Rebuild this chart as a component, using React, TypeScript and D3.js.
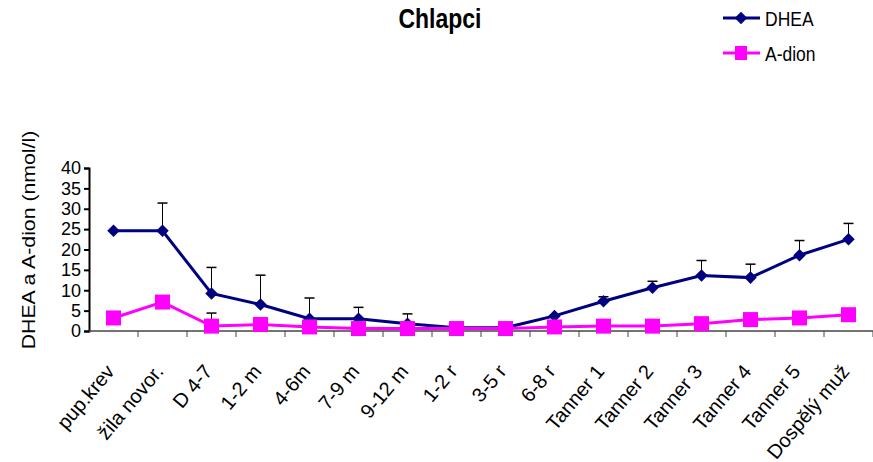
import React, { useEffect, useRef } from "react";
import * as d3 from "d3";

const categories = [
  "pup.krev", "žila novor.", "D 4-7", "1-2 m", "4-6m", "7-9 m", "9-12 m", "1-2 r",
  "3-5 r", "6-8 r", "Tanner 1", "Tanner 2", "Tanner 3", "Tanner 4", "Tanner 5", "Dospělý muž",
];
const dhea = [24.6, 24.6, 9.2, 6.5, 3.0, 3.0, 1.8, 0.8, 0.8, 3.7, 7.3, 10.6, 13.6, 13.1, 18.6, 22.5];
const dheaErr = [0, 6.8, 6.4, 7.2, 5.1, 2.8, 2.4, 0.3, 0.3, 0, 1.1, 1.6, 3.7, 3.3, 3.6, 3.9];
const adion = [3.2, 7.1, 1.2, 1.6, 1.0, 0.6, 0.6, 0.6, 0.6, 1.0, 1.2, 1.2, 1.8, 2.8, 3.2, 4.0];
const adionErr = [0, 0, 3.2, 0, 0, 0, 0, 0, 0, 0, 0, 0, 0, 0, 0, 0];
const yTicks = [0, 5, 10, 15, 20, 25, 30, 35, 40];

const width = 873;
const height = 462;
const margin = { top: 168, right: 0, bottom: 131, left: 89 };
const font = "Arial, 'Liberation Sans', sans-serif";

const App = () => {
  const ref = useRef<SVGSVGElement>(null);

  useEffect(() => {
    const svg = d3.select(ref.current);
    svg.selectAll("*").remove();

    const x = d3.scaleBand().domain(categories).range([margin.left, width - margin.right]);
    const y = d3.scaleLinear().domain([0, 40]).range([height - margin.bottom, margin.top]);
    const cx = (i: number) => (x(categories[i]) as number) + x.bandwidth() / 2;

    // title (source image is a bit stretched vertically)
    svg.append("text").attr("transform", "translate(440,28) scale(1,1.2)").attr("text-anchor", "middle")
      .attr("font-family", font).attr("font-weight", "bold").attr("font-size", 23).text("Chlapci");

    // y axis
    const yAxis = svg.append("g").attr("transform", `translate(${margin.left},0)`)
      .call(d3.axisLeft(y).tickValues(yTicks).tickSize(5).tickPadding(3));
    yAxis.selectAll("text").attr("font-family", font).attr("font-size", 18).attr("fill", "#000");
    yAxis.selectAll("line, path").attr("stroke", "#000").attr("stroke-width", 2);

    // x axis: ticks at band edges
    const xg = svg.append("g");
    xg.append("line").attr("x1", margin.left).attr("x2", width).attr("y1", y(0)).attr("y2", y(0))
      .attr("stroke", "#444").attr("stroke-width", 1.5);
    categories.forEach((c, i) => {
      const x1 = (x(c) as number) + x.bandwidth();
      xg.append("line").attr("x1", x1).attr("x2", x1).attr("y1", y(0)).attr("y2", y(0) + 6)
        .attr("stroke", "#444").attr("stroke-width", 1);
      xg.append("text")
        .attr("transform", `translate(${cx(i) + 2},${y(0) + 41}) rotate(-50)`)
        .attr("text-anchor", "end").attr("font-family", font).attr("font-size", 20).text(c);
    });

    // y label
    svg.append("text").attr("transform", "translate(35,240) rotate(-90) scale(1.12,1)")
      .attr("text-anchor", "middle").attr("font-family", font).attr("font-size", 19)
      .text("DHEA a A-dion (nmol/l)");

    const line = d3.line<number>().x((_, i) => cx(i)).y((d) => y(d));

    const drawErr = (vals: number[], errs: number[]) => {
      vals.forEach((v, i) => {
        if (!errs[i]) return;
        const top = y(v + errs[i]);
        svg.append("line").attr("x1", cx(i)).attr("x2", cx(i)).attr("y1", y(v)).attr("y2", top)
          .attr("stroke", "#000").attr("stroke-width", 1);
        svg.append("line").attr("x1", cx(i) - 5).attr("x2", cx(i) + 5).attr("y1", top).attr("y2", top)
          .attr("stroke", "#000").attr("stroke-width", 1.5);
      });
    };
    drawErr(dhea, dheaErr);
    drawErr(adion, adionErr);

    svg.append("path").datum(dhea).attr("d", line).attr("fill", "none")
      .attr("stroke", "#000080").attr("stroke-width", 3);
    svg.append("path").datum(adion).attr("d", line).attr("fill", "none")
      .attr("stroke", "#ff00ff").attr("stroke-width", 3);

    const diamond = d3.symbol().type(d3.symbolDiamond2).size(100);
    svg.selectAll(".dm").data(dhea).enter().append("path")
      .attr("d", diamond).attr("transform", (d, i) => `translate(${cx(i)},${y(d)})`).attr("fill", "#000080");
    svg.selectAll(".sq").data(adion).enter().append("rect")
      .attr("x", (_, i) => cx(i) - 7.5).attr("y", (d) => y(d) - 7.5).attr("width", 15).attr("height", 15)
      .attr("fill", "#ff00ff");

    // legend
    const lg = svg.append("g");
    lg.append("line").attr("x1", 723).attr("x2", 760).attr("y1", 18).attr("y2", 18)
      .attr("stroke", "#000080").attr("stroke-width", 3);
    lg.append("path").attr("d", diamond).attr("transform", "translate(741,18)").attr("fill", "#000080");
    lg.append("text").attr("transform", "translate(765,26) scale(1,1.15)").attr("font-family", font)
      .attr("font-size", 17.5).text("DHEA");
    lg.append("line").attr("x1", 723).attr("x2", 760).attr("y1", 53).attr("y2", 53)
      .attr("stroke", "#ff00ff").attr("stroke-width", 3);
    lg.append("rect").attr("x", 735).attr("y", 46).attr("width", 12).attr("height", 14).attr("fill", "#ff00ff");
    lg.append("text").attr("transform", "translate(765,61) scale(1,1.15)").attr("font-family", font)
      .attr("font-size", 17.5).text("A-dion");
  }, []);

  return (
    <svg ref={ref} width={width} height={height}
      style={{ position: "absolute", left: 0, top: 0, background: "#fff" }} />
  );
};

export default App;
